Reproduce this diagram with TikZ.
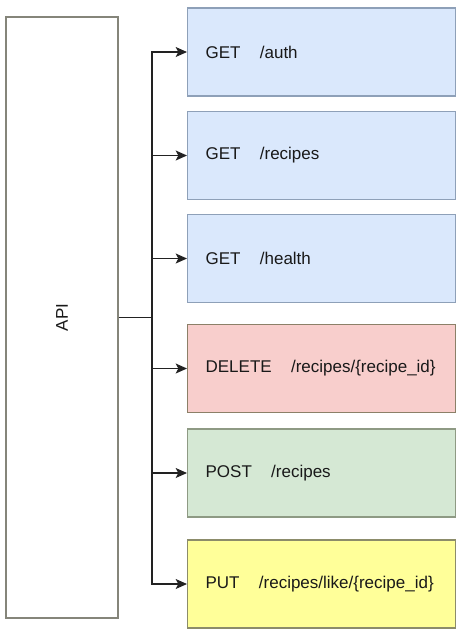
\documentclass[tikz,border=0pt]{standalone}
\usepackage{fontspec}
\setmainfont{Liberation Sans}
\usetikzlibrary{arrows.meta}
\definecolor{bluefill}{HTML}{DAE8FC}
\definecolor{bluedraw}{HTML}{8EA0B8}
\definecolor{redfill}{HTML}{F8CECC}
\definecolor{reddraw}{HTML}{8C8068}
\definecolor{greenfill}{HTML}{D5E8D4}
\definecolor{greendraw}{HTML}{8E9A84}
\definecolor{yellowfill}{HTML}{FFFF99}
\definecolor{yellowdraw}{HTML}{8C8C6A}
\definecolor{apidraw}{HTML}{85857A}
\definecolor{linecol}{HTML}{222222}
\newcommand\wgap{\hspace{14.5pt}}
\begin{document}
\begin{tikzpicture}[x=0.75pt,y=-0.75pt,
  font=\fontsize{12.75}{15}\selectfont,
  ep/.style={rectangle,line width=0.9pt,minimum height=66pt,minimum width=201pt,
    text width=174pt,align=left,inner xsep=13.5pt,anchor=west,text=black!90},
  bluebox/.style={ep,fill=bluefill,draw=bluedraw},
  redbox/.style={ep,fill=redfill,draw=reddraw},
  greenbox/.style={ep,fill=greenfill,draw=greendraw},
  yellowbox/.style={ep,fill=yellowfill,draw=yellowdraw},
  apibox/.style={rectangle,draw=apidraw,fill=white,line width=0.9pt,minimum width=84pt,minimum height=450.75pt,text=black!90},
  conn/.style={draw=linecol,line width=0.9pt},
  arr/.style={conn,-{Stealth[length=8.5pt,width=7.5pt,inset=2pt]}}
]
\useasboundingbox (0,0) rectangle (460,637);
\node[apibox] (api) at (62,317.5) {};
\node[rotate=90,text=black!90] (apilabel) at (api.center) {API};
\node[bluebox] (b1) at (187,52) {GET\wgap/auth};
\node[bluebox] (b2) at (187,155.5) {GET\wgap/recipes};
\node[bluebox] (b3) at (187,258.5) {GET\wgap/health};
\node[redbox] (b4) at (187,368.5) {DELETE\wgap/recipes/\{recipe\_id\}};
\node[greenbox] (b5) at (187,473) {POST\wgap/recipes};
\node[yellowbox] (b6) at (187,584) {PUT\wgap/recipes/like/\{recipe\_id\}};
\coordinate (j) at (152,317.5);
\draw[conn] (api.east) -- (j);
\foreach \b in {b1,b2,b3,b4,b5,b6}{
  \draw[arr] (j) |- (\b.west);
}
\end{tikzpicture}
\end{document}
